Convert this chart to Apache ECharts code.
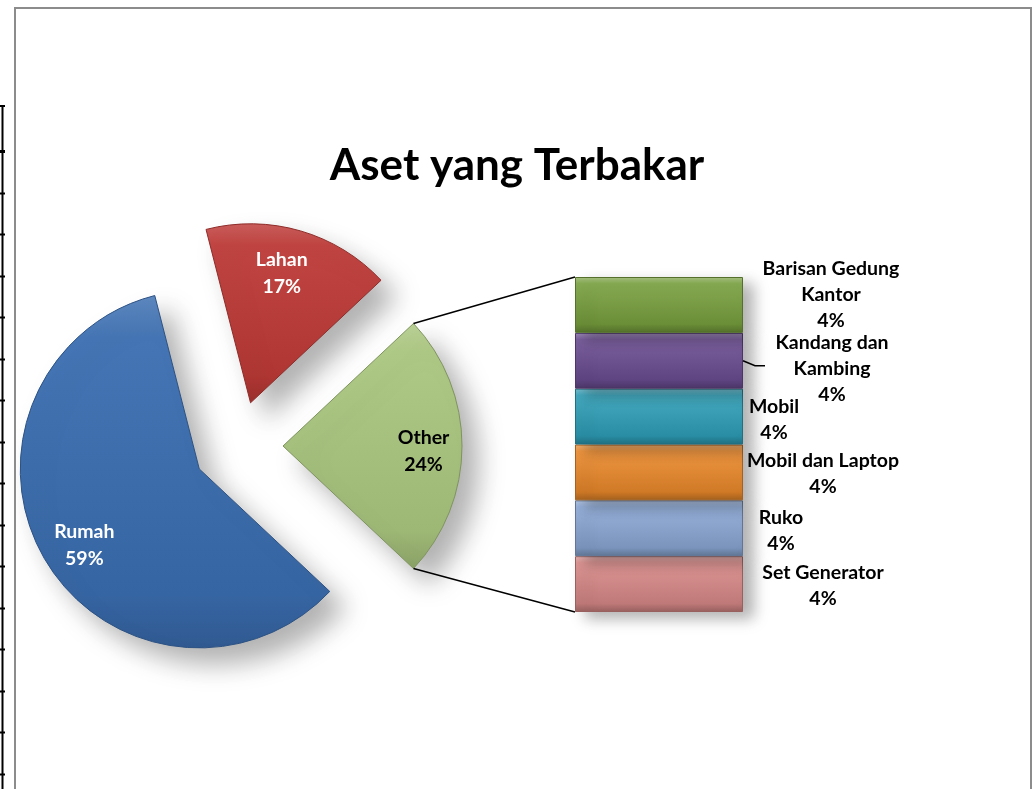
<!DOCTYPE html>
<html>
<head>
<meta charset="utf-8">
<script src="https://cdn.jsdelivr.net/npm/echarts@6/dist/echarts.min.js"></script>
<style>
html,body{margin:0;padding:0;background:#fff;}
#chart{width:1034px;height:789px;}
</style>
</head>
<body>
<div id="chart"></div>
<script>
// ---- data ----
const chartTitle = 'Aset yang Terbakar';
const mainNames = ['Rumah', 'Lahan', 'Other'];
const mainValues = [59, 17, 24];
const subNames = ['Barisan Gedung\nKantor', 'Kandang dan\nKambing', 'Mobil', 'Mobil dan Laptop', 'Ruko', 'Set Generator'];
const subValues = [4, 4, 4, 4, 4, 4];

// ---- styles ----
const mainColors = ['#3a6db0', '#bd3a37', '#a9c57e'];
const mainLabelColors = ['#ffffff', '#ffffff', '#000000'];
const mainLabelPadding = [[0, 0, 0, 12], [0, 16, 0, 0], [0, 0, 0, 0]];
const subColors = ['#78a03e', '#6b4d93', '#2fa0b9', '#ec8a2b', '#8ba8d6', '#d98a88'];
// label anchor (relative to each bar segment's top-left)
const subLabelPos = [[256, 18], [257, 36], [199, 31], [248, 29], [206, 30], [248, 30]];

const FONT = 'Lato, "Open Sans", "Liberation Sans", sans-serif';
const PIE_CENTER = [238, 446];
const LABEL_CENTER = [238, 451];
const PIE_R = 179;
const EXPLODE = 45;

function shade(hex, amt) {
  const n = parseInt(hex.slice(1), 16);
  let r = (n >> 16) & 255, g = (n >> 8) & 255, b = n & 255;
  const f = c => {
    const v = amt >= 0 ? c + (255 - c) * amt : c * (1 + amt);
    return Math.max(0, Math.min(255, Math.round(v)));
  };
  return 'rgb(' + f(r) + ',' + f(g) + ',' + f(b) + ')';
}
function grad(hex, top, bottom) {
  return {
    type: 'linear', x: 0, y: 0, x2: 0, y2: 1,
    colorStops: [
      { offset: 0, color: shade(hex, top) },
      { offset: 0.12, color: shade(hex, top * 0.3) },
      { offset: 0.85, color: shade(hex, bottom * 0.4) },
      { offset: 1, color: shade(hex, bottom) }
    ]
  };
}

const total = mainValues.reduce((a, b) => a + b, 0);
const subTotal = subValues.reduce((a, b) => a + b, 0);
const otherIdx = mainNames.length - 1;
// Other slice centred on 3 o'clock
const startAngle = -(mainValues[otherIdx] / total * 360) / 2;

const chart = echarts.init(document.getElementById('chart'), null, { renderer: 'canvas' });

const pieData = mainNames.map((n, i) => ({
  name: n, value: mainValues[i], selected: true,
  itemStyle: {
    color: grad(mainColors[i], 0.18, -0.18),
    borderColor: shade(mainColors[i], -0.25), borderWidth: 1,
    shadowBlur: 26, shadowColor: 'rgba(0,0,0,0.3)', shadowOffsetX: 16, shadowOffsetY: 16
  }
}));
const pieLabelData = mainNames.map((n, i) => ({
  name: n, value: mainValues[i], selected: true,
  itemStyle: { color: 'rgba(0,0,0,0)' },
  label: { color: mainLabelColors[i], padding: mainLabelPadding[i] }
}));

const barSeries = [];
for (let i = subNames.length - 1; i >= 0; i--) {
  barSeries.push({
    type: 'bar', name: subNames[i], stack: 'other', barWidth: '100%',
    data: [subValues[i]],
    itemStyle: {
      color: grad(subColors[i], 0.35, -0.3),
      borderColor: shade(subColors[i], -0.3), borderWidth: 1,
      shadowBlur: 14, shadowColor: 'rgba(0,0,0,0.3)', shadowOffsetX: 10, shadowOffsetY: 6
    },
    label: {
      show: true,
      position: subLabelPos[i],
      align: 'center', verticalAlign: 'middle',
      formatter: () => subNames[i] + '\n' + Math.round(subValues[i] / total * 100) + '%',
      fontFamily: FONT, fontWeight: 'bold', fontSize: 19.5, lineHeight: 26, color: '#000'
    },
    emphasis: { disabled: true },
    silent: true
  });
}

chart.setOption({
  animation: false,
  backgroundColor: '#ffffff',
  title: {
    text: chartTitle, left: 'center', top: 139,
    textStyle: { fontFamily: FONT, fontWeight: 'bold', fontSize: 44, color: '#000' }
  },
  grid: { left: 575, right: 291, top: 277, bottom: 177, containLabel: false },
  xAxis: { type: 'category', data: [mainNames[otherIdx]], show: false },
  yAxis: { type: 'value', min: 0, max: subTotal, show: false },
  series: [
    {
      type: 'pie', center: PIE_CENTER, radius: PIE_R, startAngle: startAngle, clockwise: true,
      selectedMode: 'multiple', selectedOffset: EXPLODE, avoidLabelOverlap: false,
      label: { show: false }, labelLine: { show: false },
      emphasis: { disabled: true }, data: pieData, z: 2
    },
    {
      type: 'pie', center: LABEL_CENTER, radius: [96, PIE_R], startAngle: startAngle, clockwise: true,
      selectedMode: 'multiple', selectedOffset: EXPLODE, avoidLabelOverlap: false, percentPrecision: 0,
      label: {
        show: true, position: 'inside', formatter: '{b}\n{d}%',
        fontFamily: FONT, fontWeight: 'bold', fontSize: 19.5, lineHeight: 27
      },
      labelLine: { show: false }, emphasis: { disabled: true }, silent: true,
      data: pieLabelData, z: 3
    }
  ].concat(barSeries)
});

// ---- connector lines & decorations ----
const rad = Math.PI / 180;
const otherMid = startAngle + mainValues[otherIdx] / total * 360 / 2; // bisector (=0)
const apex = [PIE_CENTER[0] + EXPLODE * Math.cos(otherMid * rad), PIE_CENTER[1] - EXPLODE * Math.sin(otherMid * rad)];
const aTop = -startAngle, aBot = startAngle;
const pTop = [apex[0] + PIE_R * Math.cos(aTop * rad), apex[1] - PIE_R * Math.sin(aTop * rad)];
const pBot = [apex[0] + PIE_R * Math.cos(aBot * rad), apex[1] - PIE_R * Math.sin(aBot * rad)];
const gridRect = chart.getModel().getComponent('grid', 0).coordinateSystem.getRect();
const barTopY = chart.convertToPixel({ yAxisIndex: 0 }, subTotal);
const barBotY = chart.convertToPixel({ yAxisIndex: 0 }, 0);
const segH = (barBotY - barTopY) / subValues.length;
const kandY = barTopY + segH * 1.5;
const barRight = gridRect.x + gridRect.width;

const graphics = [
  { type: 'line', shape: { x1: pTop[0], y1: pTop[1], x2: gridRect.x, y2: barTopY }, style: { stroke: '#000', lineWidth: 1.5 }, z: 10 },
  { type: 'line', shape: { x1: pBot[0], y1: pBot[1], x2: gridRect.x, y2: barBotY }, style: { stroke: '#000', lineWidth: 1.5 }, z: 10 },
  { type: 'polyline', shape: { points: [[barRight, kandY], [barRight + 12, kandY + 5], [barRight + 22, kandY + 5]] }, style: { stroke: '#000', lineWidth: 1.5, fill: null }, z: 10 },
  // chart frame
  { type: 'rect', shape: { x: 15, y: 8, width: 1016, height: 820 }, style: { fill: null, stroke: '#8c8c8c', lineWidth: 2 }, z: 20 },
  // sheet grid line at the left
  { type: 'line', shape: { x1: 2.5, y1: 105, x2: 2.5, y2: 789 }, style: { stroke: '#000', lineWidth: 2 }, z: 20 },
  { type: 'line', shape: { x1: 0, y1: 106, x2: 5, y2: 106 }, style: { stroke: '#000', lineWidth: 2 }, z: 20 },
  { type: 'line', shape: { x1: 0, y1: 151.5, x2: 5, y2: 151.5 }, style: { stroke: '#000', lineWidth: 3 }, z: 20 }
];
for (let y = 151.5 + 41.47; y < 789; y += 41.47) {
  graphics.push({ type: 'line', shape: { x1: 0, y1: Math.round(y) + 0.5, x2: 5, y2: Math.round(y) + 0.5 }, style: { stroke: '#000', lineWidth: 2 }, z: 20 });
}
chart.setOption({ graphic: graphics });
</script>
</body>
</html>
